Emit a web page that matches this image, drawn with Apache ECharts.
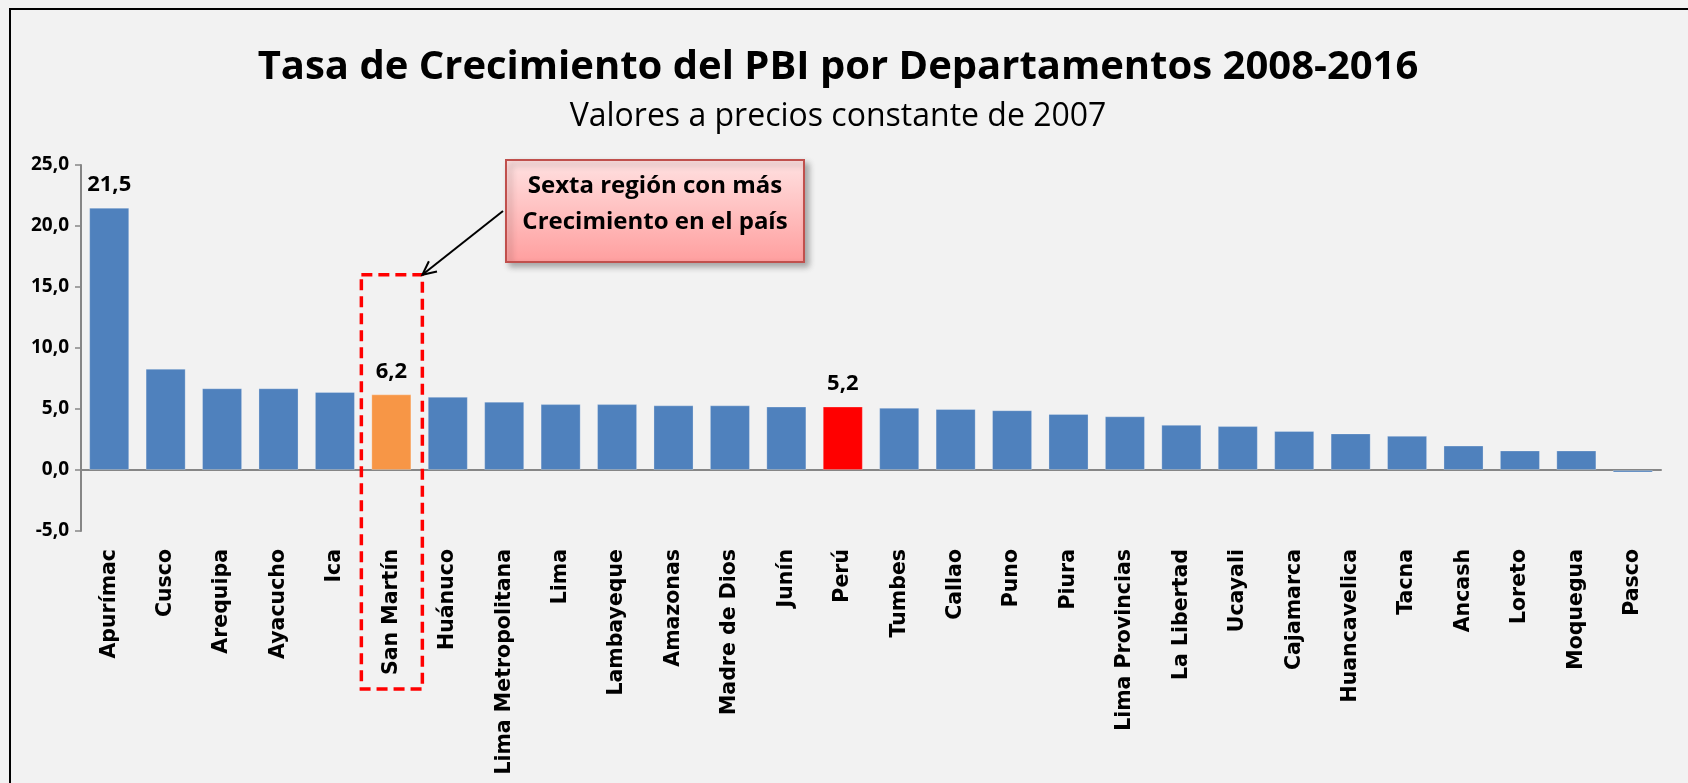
<!DOCTYPE html>
<html>
<head>
<meta charset="utf-8">
<script src="https://cdn.jsdelivr.net/npm/echarts@6/dist/echarts.min.js"></script>
<style>
  html, body { margin: 0; padding: 0; background: #f2f2f2; }
  #chart { width: 1688px; height: 783px; }
</style>
</head>
<body>
<div id="chart"></div>
<script>
// departamentos ordenados de mayor a menor tasa
const departamentos = ['Apurímac', 'Cusco', 'Arequipa', 'Ayacucho', 'Ica', 'San Martín', 'Huánuco',
  'Lima Metropolitana', 'Lima', 'Lambayeque', 'Amazonas', 'Madre de Dios', 'Junín', 'Perú', 'Tumbes',
  'Callao', 'Puno', 'Piura', 'Lima Provincias', 'La Libertad', 'Ucayali', 'Cajamarca', 'Huancavelica',
  'Tacna', 'Ancash', 'Loreto', 'Moquegua', 'Pasco'];
const tasas = [21.5, 8.3, 6.7, 6.7, 6.4, 6.2, 6.0, 5.6, 5.4, 5.4, 5.3, 5.3, 5.2, 5.2, 5.1,
  5.0, 4.9, 4.6, 4.4, 3.7, 3.6, 3.2, 3.0, 2.8, 2.0, 1.6, 1.6, -0.2];
const yTicks = [-5, 0, 5, 10, 15, 20, 25];
const destacados = { 'San Martín': '#f79646', 'Perú': '#ff0000' };
const conEtiqueta = ['Apurímac', 'San Martín', 'Perú'];

const coma = v => v.toFixed(1).replace('.', ',');
const gris = '#868686';

const barras = tasas.map((v, i) => {
  const nombre = departamentos[i];
  return {
    value: v,
    itemStyle: { color: destacados[nombre] || '#4f81bd' },
    label: { show: conEtiqueta.includes(nombre) }
  };
});

const chart = echarts.init(document.getElementById('chart'));
chart.setOption({
  backgroundColor: '#f2f2f2',
  animation: false,
  title: {
    text: 'Tasa de Crecimiento del PBI por Departamentos 2008-2016',
    subtext: 'Valores a precios constante de 2007',
    left: 833,
    textAlign: 'center',
    top: 40,
    itemGap: 8,
    textStyle: { fontFamily: 'Open Sans', fontWeight: 'bold', fontSize: 40, lineHeight: 46, color: '#000' },
    subtextStyle: { fontFamily: 'Open Sans', fontSize: 32, lineHeight: 36, color: '#000' }
  },
  grid: { left: 81, right: 27, top: 165, bottom: 252, outerBoundsMode: 'none' },
  xAxis: [
    {
      type: 'category',
      data: departamentos,
      axisLine: { onZero: true, lineStyle: { color: gris, width: 2 } },
      axisTick: { interval: 0, length: 8, lineStyle: { color: gris, width: 1.5 } },
      axisLabel: {
        interval: 0, rotate: 90, margin: 18,
        fontFamily: 'DejaVu Sans', fontWeight: 'bold', fontSize: 20.5, color: '#000'
      }
    },
    {
      // marcas cortas al centro de cada barra
      type: 'category',
      data: departamentos,
      position: 'bottom',
      axisLine: { show: false, onZero: true },
      axisTick: { interval: 0, alignWithLabel: true, length: 5, lineStyle: { color: gris, width: 1.5 } },
      axisLabel: { show: false }
    }
  ],
  yAxis: {
    type: 'value',
    min: yTicks[0],
    max: yTicks[yTicks.length - 1],
    interval: yTicks[1] - yTicks[0],
    splitLine: { show: false },
    axisLine: { show: true, lineStyle: { color: gris, width: 2 } },
    axisTick: { show: true, length: 6, lineStyle: { color: gris, width: 1.5 } },
    axisLabel: {
      formatter: coma, margin: 12,
      fontFamily: 'Open Sans', fontWeight: 'bold', fontSize: 19, color: '#000'
    }
  },
  series: [{
    type: 'bar',
    xAxisIndex: 0,
    data: barras,
    barCategoryGap: '29%',
    itemStyle: { borderColor: 'rgba(255,255,255,0.25)', borderWidth: 1 },
    label: {
      position: 'top', distance: 12,
      formatter: p => coma(p.value),
      fontFamily: 'Open Sans', fontWeight: 'bold', fontSize: 22, color: '#000'
    }
  }]
});

// recuadro punteado alrededor de San Martín y llamada
const iSM = departamentos.indexOf('San Martín');
const arriba = chart.convertToPixel({ gridIndex: 0 }, [iSM, 16]);
const izq = arriba[0] - 30, der = arriba[0] + 31, sup = arriba[1], inf = 689;

const desde = [503, 211];
const dx = der - desde[0], dy = sup - desde[1];
const largo = Math.hypot(dx, dy);
const ux = dx / largo, uy = dy / largo;
const punta = (ang) => {
  const c = Math.cos(ang), s = Math.sin(ang);
  return [der - 15 * (ux * c - uy * s), sup - 15 * (ux * s + uy * c)];
};

chart.setOption({
  graphic: [
    {
      type: 'polyline',
      shape: { points: [[10, 783], [10, 9], [1688, 9]] },
      style: { stroke: '#000', lineWidth: 2, fill: null }
    },
    {
      type: 'rect',
      shape: { x: izq, y: sup, width: der - izq, height: inf - sup },
      style: { fill: null, stroke: '#ff0000', lineWidth: 3.5, lineDash: [11, 6] },
      z: 10
    },
    {
      type: 'line',
      shape: { x1: desde[0], y1: desde[1], x2: der, y2: sup },
      style: { stroke: '#000', lineWidth: 2 },
      z: 10
    },
    {
      type: 'polyline',
      shape: { points: [punta(0.45), [der, sup], punta(-0.45)] },
      style: { stroke: '#000', lineWidth: 2, fill: null },
      z: 10
    },
    {
      type: 'rect',
      shape: { x: 506, y: 160, width: 298, height: 102 },
      style: {
        fill: {
          type: 'linear', x: 0, y: 0, x2: 0, y2: 1,
          colorStops: [{ offset: 0, color: '#ffe2e2' }, { offset: 1, color: '#ff9e9e' }]
        },
        stroke: '#c0504d', lineWidth: 2,
        shadowBlur: 6, shadowOffsetX: 4, shadowOffsetY: 4, shadowColor: 'rgba(0,0,0,0.3)'
      },
      z: 10
    },
    {
      type: 'text',
      style: {
        text: 'Sexta región con más\nCrecimiento en el país',
        x: 655, y: 204, align: 'center', verticalAlign: 'middle',
        fontFamily: 'Open Sans', fontWeight: 'bold', fontSize: 24, lineHeight: 36, fill: '#000'
      },
      z: 11
    }
  ]
});
</script>
</body>
</html>
